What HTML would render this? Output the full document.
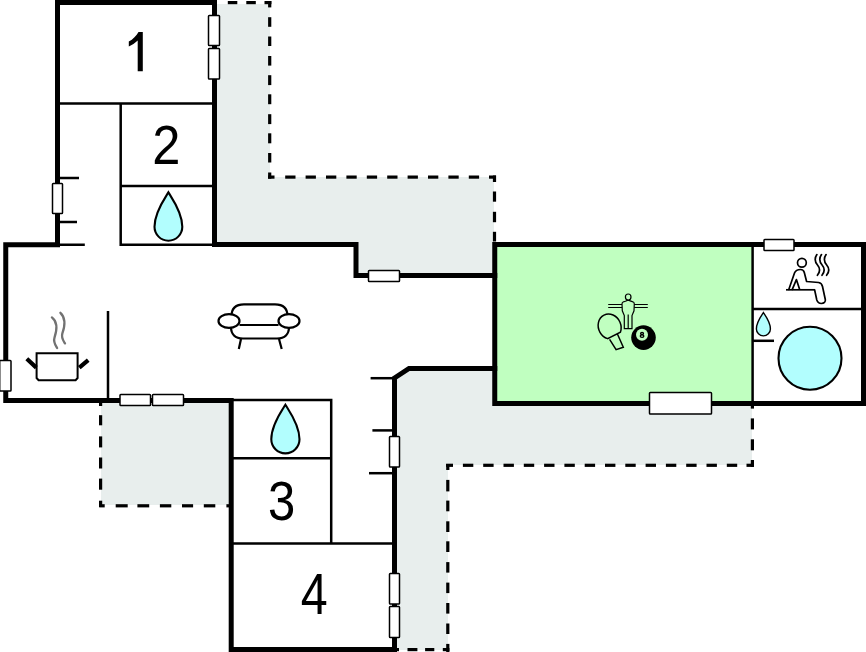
<!DOCTYPE html>
<html><head><meta charset="utf-8">
<style>
html,body{margin:0;padding:0;background:#fff;width:866px;height:652px;overflow:hidden}
svg{display:block;position:absolute;left:0;top:0}
text{font-family:"Liberation Sans",sans-serif}
</style></head><body>
<svg width="866" height="652" viewBox="0 0 866 652">
<!-- fills -->
<g fill="#e8eeed">
<polygon points="217,4 270,4 270,177 494,177 494,275 356,275 356,245 217,245"/>
<polygon points="395,378 409,369 494,369 494,404 752,404 752,465 448,465 448,650 395,650"/>
<rect x="101" y="401" width="130" height="104"/>
</g>
<rect x="495" y="245" width="258" height="158" fill="#c0ffc0"/>

<!-- dashed -->
<g fill="#000">
<rect x="227.80" y="1.00" width="9.50" height="3.2"/><rect x="246.30" y="1.00" width="9.50" height="3.2"/><rect x="264.50" y="1.00" width="6.90" height="3.2"/>
<rect x="268.10" y="1.00" width="3.2" height="6.40"/><rect x="268.10" y="17.20" width="3.2" height="9.60"/><rect x="268.10" y="36.50" width="3.2" height="9.50"/><rect x="268.10" y="56.00" width="3.2" height="9.60"/><rect x="268.10" y="75.20" width="3.2" height="9.90"/><rect x="268.10" y="94.30" width="3.2" height="9.90"/><rect x="268.10" y="114.20" width="3.2" height="9.90"/><rect x="268.10" y="133.30" width="3.2" height="10.00"/><rect x="268.10" y="153.00" width="3.2" height="9.50"/><rect x="268.10" y="172.50" width="3.2" height="6.20"/>
<rect x="268.00" y="175.50" width="6.50" height="3.2"/><rect x="285.20" y="175.50" width="10.30" height="3.2"/><rect x="305.60" y="175.50" width="10.30" height="3.2"/><rect x="326.00" y="175.50" width="10.30" height="3.2"/><rect x="346.40" y="175.50" width="10.30" height="3.2"/><rect x="366.80" y="175.50" width="10.30" height="3.2"/><rect x="387.20" y="175.50" width="10.30" height="3.2"/><rect x="407.60" y="175.50" width="10.30" height="3.2"/><rect x="428.00" y="175.50" width="10.30" height="3.2"/><rect x="448.40" y="175.50" width="10.30" height="3.2"/><rect x="468.80" y="175.50" width="10.30" height="3.2"/><rect x="489.00" y="175.50" width="7.00" height="3.2"/>
<rect x="492.90" y="175.50" width="3.2" height="6.50"/><rect x="492.90" y="191.50" width="3.2" height="10.20"/><rect x="492.90" y="211.80" width="3.2" height="10.40"/><rect x="492.90" y="231.80" width="3.2" height="9.70"/>
<rect x="750.80" y="405.00" width="3.2" height="3.60"/><rect x="750.80" y="418.40" width="3.2" height="11.00"/><rect x="750.80" y="439.30" width="3.2" height="11.00"/><rect x="750.80" y="460.00" width="3.2" height="6.90"/>
<rect x="746.50" y="463.70" width="7.30" height="3.2"/><rect x="726.80" y="463.70" width="10.40" height="3.2"/><rect x="706.50" y="463.70" width="10.40" height="3.2"/><rect x="686.20" y="463.70" width="10.40" height="3.2"/><rect x="665.90" y="463.70" width="10.40" height="3.2"/><rect x="645.60" y="463.70" width="10.40" height="3.2"/><rect x="625.30" y="463.70" width="10.40" height="3.2"/><rect x="605.00" y="463.70" width="10.40" height="3.2"/><rect x="584.70" y="463.70" width="10.40" height="3.2"/><rect x="564.40" y="463.70" width="10.40" height="3.2"/><rect x="544.10" y="463.70" width="10.40" height="3.2"/><rect x="523.80" y="463.70" width="10.40" height="3.2"/><rect x="503.50" y="463.70" width="10.40" height="3.2"/><rect x="483.20" y="463.70" width="10.40" height="3.2"/><rect x="462.90" y="463.70" width="10.40" height="3.2"/><rect x="446.10" y="463.70" width="6.90" height="3.2"/>
<rect x="446.20" y="464.00" width="3.2" height="6.00"/><rect x="446.20" y="479.90" width="3.2" height="11.50"/><rect x="446.20" y="500.60" width="3.2" height="10.70"/><rect x="446.20" y="521.30" width="3.2" height="10.70"/><rect x="446.20" y="541.30" width="3.2" height="10.70"/><rect x="446.20" y="562.10" width="3.2" height="10.50"/><rect x="446.20" y="582.60" width="3.2" height="10.50"/><rect x="446.20" y="603.00" width="3.2" height="10.60"/><rect x="446.20" y="623.50" width="3.2" height="10.50"/><rect x="446.20" y="643.90" width="3.2" height="8.10"/>
<rect x="442.80" y="648.00" width="6.60" height="3.2"/><rect x="425.10" y="648.00" width="9.20" height="3.2"/><rect x="407.50" y="648.00" width="9.90" height="3.2"/><rect x="397.00" y="648.00" width="2.00" height="3.2"/>
<rect x="99.00" y="403.00" width="3.2" height="3.00"/><rect x="99.00" y="415.20" width="3.2" height="10.10"/><rect x="99.00" y="436.40" width="3.2" height="11.00"/><rect x="99.00" y="457.50" width="3.2" height="11.00"/><rect x="99.00" y="478.60" width="3.2" height="11.10"/><rect x="99.00" y="500.70" width="3.2" height="6.30"/>
<rect x="99.20" y="504.20" width="5.50" height="3.2"/><rect x="115.70" y="504.20" width="12.00" height="3.2"/><rect x="137.40" y="504.20" width="11.80" height="3.2"/><rect x="159.90" y="504.20" width="11.40" height="3.2"/><rect x="182.00" y="504.20" width="11.10" height="3.2"/><rect x="203.80" y="504.20" width="11.50" height="3.2"/><rect x="226.40" y="504.20" width="2.60" height="3.2"/>
</g>

<!-- thick walls -->
<g fill="none" stroke="#000" stroke-width="5" stroke-linejoin="miter" stroke-linecap="square">
<path d="M57.5,244.5 V2.5 H214.5 V244.5 H356 V275.5 H494.75"/>
<path d="M57.5,244.8 H5.75 V400.5 H231.2 V649.5 H394.5 V378 L409,368.5 H494.75"/>
<path d="M494.75,244.5 V403.4 H863.5 V244.5 Z"/>
</g>

<!-- thin lines -->
<g fill="none" stroke="#000" stroke-width="2.5">
<path d="M58,103.5 H214"/>
<path d="M120.7,103 V244.8 H214"/>
<path d="M120.7,186 H214"/>
<path d="M60,244.75 H84.8"/>
<path d="M60,178 H79"/>
<path d="M60,222 H77"/>
<path d="M108,311 V400"/>
<path d="M233,400.1 H331.2 V543.6"/>
<path d="M233,458.2 H331.2"/>
<path d="M233,543.6 H394"/>
<path d="M370.6,378.2 H393"/>
<path d="M372.4,430.4 H393"/>
<path d="M369,473.2 H393"/>
<path d="M752.6,245 V403"/>
<path d="M753,308.9 H862"/>
<path d="M753,340.8 H774"/>
</g>

<!-- windows -->
<g fill="#fff" stroke="#000" stroke-width="1.5">
<rect x="208.5" y="15.5" width="11" height="30" rx="0.8"/>
<rect x="208.5" y="48.5" width="11" height="30.5" rx="0.8"/>
<rect x="52.5" y="183.5" width="10" height="30" rx="0.8"/>
<rect x="368.5" y="270.5" width="31" height="11" rx="0.8"/>
<rect x="764" y="239.5" width="30" height="11" rx="0.8"/>
<rect x="649.5" y="392.5" width="62" height="21.5" rx="0.8"/>
<rect x="-0.3" y="360.5" width="11.3" height="30.5" rx="0.8"/>
<rect x="120" y="394.5" width="30.5" height="11" rx="0.8"/>
<rect x="152.5" y="394.5" width="31" height="11" rx="0.8"/>
<rect x="389.5" y="436.5" width="10" height="30.5" rx="0.8"/>
<rect x="389.5" y="573.5" width="10" height="30.5" rx="0.8"/>
<rect x="389.5" y="606.5" width="10" height="31" rx="0.8"/>
</g>

<!-- numbers -->
<path d="M142.8,32 V71.3 H137.7 V40.5 C135,43 132,45 128.8,46.5 V41.5 C133,39.5 136.5,35.5 138.5,32 Z" fill="#000"/>
<g font-size="55" fill="#000" text-anchor="middle">
<text transform="translate(166.2,163.9) scale(0.92,1)">2</text>
<text transform="translate(281.5,520.2) scale(0.89,1)">3</text>
<text transform="translate(314.2,613.8) scale(0.88,1.03)">4</text>
</g>
<!-- drops -->
<g fill="#b2fefe" stroke="#000" stroke-width="2.1">
<path d="M168.4,192.4 C172.15,198.59 182.30,212.35 182.30,226.80 A13.9,13.9 0 0 1 154.50,226.80 C154.50,212.35 164.65,198.59 168.4,192.4 Z"/>
<path d="M285.4,404.8 C289.21,411.01 299.50,424.81 299.50,439.30 A14.1,14.1 0 0 1 271.30,439.30 C271.30,424.81 281.59,411.01 285.4,404.8 Z"/>
<circle cx="810" cy="358.2" r="31.5"/>
</g>
<path d="M763.4,312.6 C765.29,315.53 770.40,322.05 770.40,328.90 A7.0,7.0 0 0 1 756.40,328.90 C756.40,322.05 761.51,315.53 763.4,312.6 Z" fill="#b2fefe" stroke="#000" stroke-width="1.4"/>

<!-- sofa -->
<g fill="none" stroke="#000" stroke-width="2.2">
<path d="M231.5,316 C231.5,308 236,304.3 244,304.3 H275 C283,304.3 287.5,308 287.5,316"/>
<path d="M231,327 C231,334 235,338.5 243,338.5 H277 C285,338.5 289,334 289,327"/>
<path d="M239.5,325 H278.5"/>
<ellipse cx="229" cy="321" rx="10.5" ry="6.8" fill="#fff"/>
<ellipse cx="289" cy="321" rx="10.5" ry="6.8" fill="#fff"/>
<path d="M241,339 L238.8,349 M279,339 L281.7,349"/>
</g>

<!-- pot -->
<g fill="none" stroke="#000">
<path d="M36.6,353.2 H77.6 V378 L75.6,380.2 H38.6 L36.6,378 Z" stroke-width="2" fill="#fff"/>
<path d="M26.8,358.8 L36.3,367.6 M79.3,367.6 L88.2,360.2" stroke-width="4.2"/>
<path d="M51.9,317.4 C58,322 57,330 54.5,337.6 C53,342 56,346 57.1,348" stroke="#727272" stroke-width="2.3" stroke-linecap="round"/>
<path d="M60.4,312.8 C66,318 65,326 62.3,333.7 C61,338 63.5,341 65,343.4" stroke="#727272" stroke-width="2.3" stroke-linecap="round"/>
</g>

<!-- game icons -->
<g fill="none" stroke="#000" stroke-width="1.2">
<path d="M608.2,304.5 H647.8 M608.2,307.5 H647.8"/>
<path d="M628.2,300.2 C626.5,300.5 625.5,301.5 623.5,301.8 C622.3,302.2 622,303 622,304 L622.3,310.8 L624.3,315.5 V328.6 H632 V315.5 L634,310.8 L634.3,304 C634.3,303 634,302.2 632.8,301.8 C630.8,301.5 629.8,300.5 628.2,300.2 Z" fill="#c0ffc0"/>
<path d="M628.2,314.5 V328"/>
<ellipse cx="628.2" cy="297" rx="2.8" ry="3.0" fill="#c0ffc0"/>
<path d="M607.6,338.6 A11.2,12.8 -25 1 1 620.4,332.2 Z M609.6,339.3 L616.1,349.6 L623.3,347.3 L617.3,333.7" stroke-width="1.5"/>
</g>
<circle cx="643.5" cy="337.6" r="12.3" fill="#000"/>
<circle cx="642" cy="334.8" r="6" fill="#c0ffc0"/>
<g fill="none" stroke="#000" stroke-width="1.3"><ellipse cx="642.05" cy="333.5" rx="1.45" ry="1.05"/><ellipse cx="642.05" cy="336.05" rx="1.8" ry="1.25"/></g>
<!-- sauna -->
<g fill="none" stroke="#000" stroke-width="1.7" stroke-linecap="round" stroke-linejoin="round">
<circle cx="801.9" cy="262.8" r="4.4"/>
<path d="M788.8,289.5 L794.5,273 C795.5,270.5 797.5,269.5 800.5,269.5 C802.5,269.5 803.8,270.5 804.3,272.5 L806.6,281.5 L818.6,282.5 C821,283 822.2,285 822.5,286.5 L825.3,299.5 C825.8,302 824,303.5 821.3,303.5 C819,303.5 817.5,302 816.8,300 L814.6,289.8"/>
<path d="M786,289.8 H815" stroke-linecap="butt"/>
<path d="M792.3,289.4 L796.4,279.6 L799.5,288.9"/>
<path d="M816.9,254.6 C814.5,258 815,262 817.5,265 C820.5,268.5 820,272 817.4,275.3"/>
<path d="M821.5,254.6 C819.1,258 819.6,262 822.1,265 C825.1,268.5 824.6,272 822,275.3"/>
<path d="M826.1,254.6 C823.7,258 824.2,262 826.7,265 C829.7,268.5 829.2,272 826.6,275.3"/>
</g>
</svg>
</body></html>
